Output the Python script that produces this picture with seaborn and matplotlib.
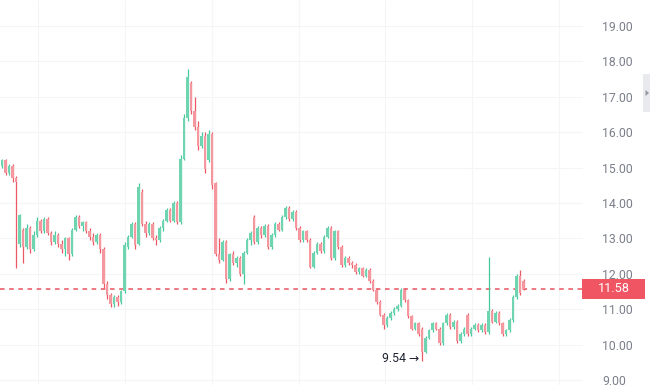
import matplotlib
matplotlib.use("Agg")
import matplotlib.pyplot as plt
import seaborn as sns
import numpy as np
from matplotlib.patches import Rectangle, Polygon

opens = [15.05, 15.2, 14.85, 15.05, 14.7, 12.85, 13.25, 12.75, 13.3, 12.7,
         13.1, 13.5, 13.2, 13.55, 13.15, 12.9, 13.1, 12.85, 12.7, 13.0,
         12.55, 13.25, 13.6, 13.35, 13.45, 13.2, 13.05, 12.9, 13.1, 12.7,
         11.7, 11.4, 11.15, 11.35, 11.2, 11.5, 12.75, 13.05, 13.4, 12.85,
         14.3, 13.4, 13.15, 13.4, 13.0, 12.95, 13.3, 13.5, 13.8, 13.5,
         14.0, 13.45, 15.25, 16.4, 17.4, 16.6, 16.15, 15.6, 15.9, 15.2,
         15.95, 14.55, 12.55, 12.4, 12.9, 11.85, 12.55, 12.3, 12.45, 12.0,
         12.6, 12.95, 13.6, 12.9, 13.3, 13.1, 13.35, 12.75, 13.1, 13.4,
         13.25, 13.6, 13.85, 13.55, 13.75, 13.3, 12.95, 13.2, 12.95, 12.2,
         12.6, 12.85, 12.65, 13.05, 13.3, 12.45, 13.2, 12.75, 12.25, 12.45,
         12.3, 12.25, 12.05, 12.15, 11.95, 12.1, 11.8, 11.55, 11.2, 10.85,
         10.55, 10.75, 10.9, 11.0, 11.1, 11.55, 11.25, 10.8, 10.45, 10.6,
         10.45, 9.8, 10.2, 10.4, 10.6, 10.45, 10.05, 10.6, 10.85, 10.5,
         10.65, 10.1, 10.3, 10.85, 10.3, 10.45, 10.55, 10.4, 10.55, 10.35,
         10.95, 10.65, 10.9, 10.6, 10.3, 10.4, 10.7, 11.35, 11.95, 11.8]
highs = [15.25, 15.25, 15.1, 15.1, 14.75, 13.7, 13.3, 13.4, 13.35, 13.2,
         13.6, 13.55, 13.6, 13.6, 13.2, 13.2, 13.15, 12.95, 13.05, 13.05,
         13.3, 13.65, 13.65, 13.5, 13.5, 13.3, 13.15, 13.15, 13.15, 12.75,
         11.8, 11.45, 11.4, 11.4, 11.55, 12.9, 13.1, 13.45, 13.45, 14.55,
         14.4, 13.5, 13.45, 13.45, 13.1, 13.35, 13.55, 13.85, 13.85, 14.05,
         14.05, 15.35, 16.5, 17.77, 17.45, 17.0, 16.3, 16.0, 16.0, 16.05,
         16.0, 14.6, 13.0, 12.95, 12.95, 12.6, 12.65, 12.5, 12.5, 12.65,
         13.0, 13.2, 13.65, 13.35, 13.35, 13.4, 13.4, 13.15, 13.45, 13.45,
         13.65, 13.9, 13.9, 13.8, 13.8, 13.35, 13.25, 13.25, 13.0, 12.65,
         12.9, 12.9, 13.1, 13.35, 13.35, 13.25, 13.25, 12.8, 12.5, 12.5,
         12.35, 12.3, 12.2, 12.2, 12.15, 12.15, 11.85, 11.6, 11.25, 10.9,
         10.8, 10.95, 11.05, 11.15, 11.6, 11.6, 11.3, 10.85, 10.65, 10.65,
         10.5, 10.25, 10.45, 10.65, 10.65, 10.5, 10.65, 10.9, 10.9, 10.7,
         10.7, 10.35, 10.5, 10.9, 10.5, 10.6, 10.6, 10.6, 10.6, 12.48,
         11.0, 10.95, 10.95, 10.65, 10.45, 10.75, 11.4, 12.0, 12.1, 11.85]
lows = [15.0, 14.8, 14.8, 14.6, 12.17, 12.75, 12.3, 12.7, 12.6, 12.65,
        13.05, 13.15, 13.15, 13.1, 12.8, 12.85, 12.75, 12.6, 12.5, 12.4,
        12.5, 13.2, 13.3, 13.2, 13.15, 12.95, 12.8, 12.85, 12.6, 11.6,
        11.3, 11.05, 11.05, 11.1, 11.15, 11.45, 12.7, 13.0, 12.7, 12.8,
        13.35, 13.05, 13.1, 12.95, 12.8, 12.9, 13.2, 13.45, 13.45, 13.45,
        13.4, 13.4, 15.2, 16.3, 16.5, 16.05, 15.5, 15.55, 14.85, 15.15,
        14.4, 12.5, 12.3, 12.35, 11.75, 11.8, 12.25, 12.2, 11.95, 11.7,
        12.55, 12.8, 12.85, 12.85, 13.0, 13.05, 12.7, 12.7, 13.05, 13.2,
        13.2, 13.55, 13.5, 13.5, 13.25, 12.9, 12.9, 12.9, 12.15, 12.15,
        12.55, 12.6, 12.6, 13.0, 12.4, 12.4, 12.7, 12.2, 12.2, 12.25,
        12.15, 12.0, 12.0, 11.9, 11.9, 11.75, 11.5, 11.15, 10.8, 10.45,
        10.5, 10.7, 10.85, 10.95, 11.05, 11.2, 10.75, 10.4, 10.4, 10.25,
        9.54, 9.75, 10.15, 10.35, 10.4, 10.0, 10.0, 10.55, 10.45, 10.45,
        10.05, 10.05, 10.25, 10.25, 10.25, 10.4, 10.35, 10.35, 10.3, 10.3,
        10.6, 10.6, 10.55, 10.25, 10.25, 10.35, 10.65, 11.3, 11.4, 11.55]
closes = [15.2, 14.85, 15.05, 14.7, 14.6, 13.65, 12.75, 13.3, 12.7, 13.1,
          13.5, 13.2, 13.55, 13.15, 12.9, 13.1, 12.85, 12.7, 13.0, 12.55,
          13.25, 13.6, 13.35, 13.45, 13.2, 13.05, 12.9, 13.1, 12.7, 11.7,
          11.4, 11.15, 11.35, 11.2, 11.5, 12.8, 13.05, 13.4, 12.8, 14.45,
          13.4, 13.15, 13.4, 13.0, 12.95, 13.3, 13.5, 13.8, 13.5, 14.0,
          13.45, 15.25, 16.4, 17.55, 16.6, 16.15, 15.6, 15.9, 14.95, 15.95,
          14.5, 12.55, 12.4, 12.9, 11.85, 12.55, 12.3, 12.45, 12.0, 12.6,
          12.95, 13.15, 12.9, 13.3, 13.1, 13.35, 12.75, 13.1, 13.4, 13.25,
          13.6, 13.85, 13.55, 13.75, 13.3, 12.95, 13.2, 12.95, 12.2, 12.6,
          12.85, 12.65, 13.05, 13.3, 12.45, 13.2, 12.75, 12.25, 12.45, 12.3,
          12.25, 12.05, 12.15, 11.95, 12.1, 11.8, 11.55, 11.2, 10.85, 10.55,
          10.75, 10.9, 11.0, 11.1, 11.55, 11.25, 10.8, 10.45, 10.6, 10.3,
          9.8, 10.2, 10.4, 10.6, 10.45, 10.05, 10.6, 10.85, 10.5, 10.65,
          10.1, 10.3, 10.45, 10.3, 10.45, 10.55, 10.4, 10.55, 10.35, 10.95,
          10.65, 10.9, 10.6, 10.3, 10.4, 10.7, 11.35, 11.95, 11.45, 11.58]

price_ticks = [9, 10, 11, 12, 13, 14, 15, 16, 17, 18, 19]
last_price = 11.58
low_label = "9.54 →"
low_index = 120

sns.set_theme(style="white")
plt.rcParams['font.family'] = ['Roboto', 'DejaVu Sans']

W, H = 650, 385
fig = plt.figure(figsize=(W / 100, H / 100), dpi=100)
plot_w = 583
ax = fig.add_axes([0, 0, plot_w / W, 1])

o = np.array(opens); h = np.array(highs); l = np.array(lows); c = np.array(closes)
idx = np.arange(len(o))
up = c >= o

up_body, up_wick = '#6fd5b1', '#45c99c'
dn_body, dn_wick = '#f5979f', '#ed5867'

ax.vlines(idx[up], l[up], h[up], color=up_wick, lw=0.9, zorder=3)
ax.vlines(idx[~up], l[~up], h[~up], color=dn_wick, lw=0.9, zorder=3)
bottoms = np.minimum(o, c)
heights = np.maximum(np.abs(c - o), 0.02)
ax.bar(idx[up], heights[up], bottom=bottoms[up], width=0.66, color=up_body,
       edgecolor='none', zorder=4)
ax.bar(idx[~up], heights[~up], bottom=bottoms[~up], width=0.66, color=dn_body,
       edgecolor='none', zorder=4)

px_per_idx = 3.5
xmin = -0.6
ax.set_xlim(xmin, xmin + plot_w / px_per_idx)
ax.set_ylim(8.86, 19.73)

# grid
for t in price_ticks:
    ax.axhline(t, color='#f4f5f7', lw=0.8, zorder=0)
for k in range(7):
    ax.axvline(10.3 + 24.8 * k, color='#f4f5f7', lw=0.8, zorder=0)

# last price dashed line
ax.axhline(last_price, color='#e8535e', lw=1.1, ls=(0, (3, 3)), zorder=2)

ax.set_xticks([])
ax.yaxis.tick_right()
ax.set_yticks(price_ticks)
ax.set_yticklabels([f"{t:.2f}" for t in price_ticks])
ax.tick_params(axis='y', length=0, pad=14, labelsize=8.8, labelcolor='#7b7f8a')
for s in ax.spines.values():
    s.set_visible(False)

# low annotation
ax.annotate(low_label, xy=(low_index - 0.8, 9.62), ha='right', va='center',
            fontsize=8.8, color='#1e2230', zorder=5)

# last price label box
y_fig = ax.transData.transform((0, last_price))[1] / H
box_h = 20 / H
fig.patches.append(Rectangle((582 / W, y_fig - box_h / 2), 63 / W, box_h,
                             transform=fig.transFigure, facecolor='#ef5563',
                             edgecolor='none', zorder=5))
fig.text(613.5 / W, y_fig, f"{last_price:.2f}", ha='center', va='center',
         color='white', fontsize=9.2, zorder=6)

# right-edge handle
fig.patches.append(Rectangle((643 / W, 1 - 112 / H), 7 / W, 38 / H,
                             transform=fig.transFigure, facecolor='#e8eaee',
                             edgecolor='none', zorder=5))
fig.patches.append(Polygon([(645.5 / W, 1 - 90 / H), (645.5 / W, 1 - 96 / H),
                            (649 / W, 1 - 93 / H)], closed=True,
                           transform=fig.transFigure, facecolor='#9598a1',
                           edgecolor='none', zorder=6))

fig.savefig("out.png", dpi=100)
